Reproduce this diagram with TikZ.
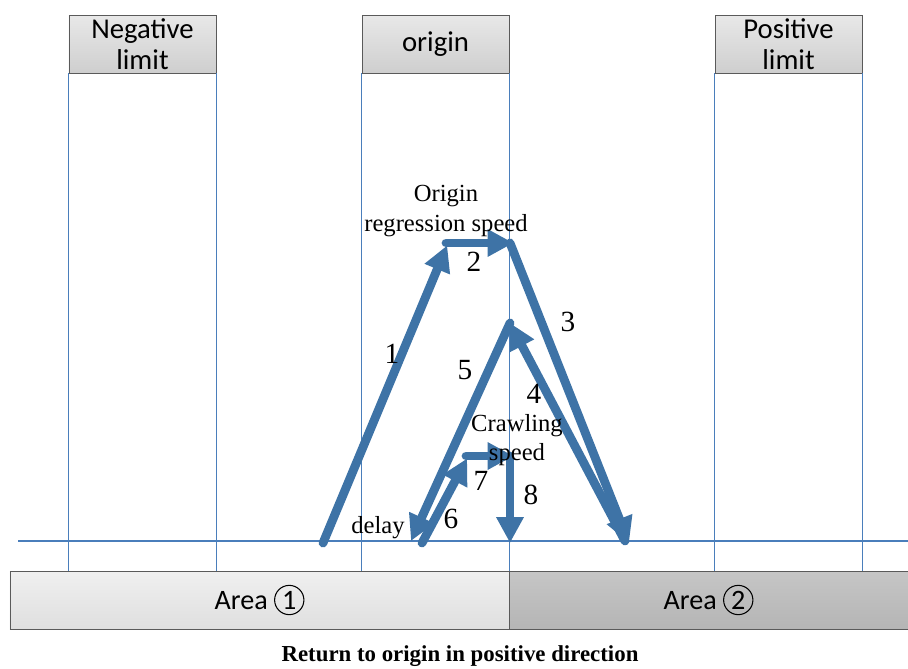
\documentclass[tikz,border=0pt]{standalone}
\usepackage{fontspec}
\setmainfont{Liberation Serif}
\newfontfamily\calibri{Carlito}
\usetikzlibrary{positioning, arrows.meta}

\definecolor{moveblue}{HTML}{3E73A6}
\definecolor{gridblue}{HTML}{4A7EBB}
\definecolor{frame}{HTML}{5A5A5A}

\newcommand{\circnum}[1]{\tikz[baseline=(cn.base)]
  \node[draw, circle, minimum size=25pt, inner sep=0pt, line width=0.9pt] (cn) {#1};}

\tikzset{
  limitbox/.style={draw=frame, thick, top color=gray!18, bottom color=gray!38,
    minimum width=4.41cm, minimum height=1.74cm, align=center, inner sep=0pt,
    font=\calibri\fontsize{24.5}{27}\selectfont},
  areabox/.style={draw=frame, thick, minimum height=1.74cm, inner sep=0pt,
    font=\calibri\fontsize{24}{27}\selectfont},
  gridline/.style={gridblue, line width=1.5pt},
  move/.style={moveblue, line width=7.5pt, line cap=round,
    -{Triangle[length=22pt, width=22pt]}},
  steplabel/.style={font=\fontsize{21}{25}\selectfont, align=center, inner sep=0pt},
  stepnum/.style={font=\fontsize{25}{27}\selectfont, inner sep=0pt}
}

\begin{document}
\begin{tikzpicture}[x=0.03cm, y=-0.03cm]

  \useasboundingbox (0,0) rectangle (908,668);

  % ── switch boxes on top ──────────────────────────────────────────────────

  \node[limitbox] (neg) at (142.5, 44) {Negative\\limit};
  \node[limitbox] (org) at (435.5, 44) {origin};
  \node[limitbox] (pos) at (788.5, 44) {Positive\\limit};

  % ── area bar at the bottom ────────────────────────────────────────────────

  \node[areabox, minimum width=14.97cm, top color=gray!12, bottom color=gray!25]
    (area1) at (259.5, 600) {Area \circnum{1}};
  \node[areabox, minimum width=11.97cm, top color=gray!45, bottom color=gray!58]
    (area2) at (708.5, 600) {Area \circnum{2}};

  % vertical guide lines
  \draw[gridline] (neg.south west) -- (neg.south west |- area1.north);
  \draw[gridline] (neg.south east) -- (neg.south east |- area1.north);
  \draw[gridline] (org.south west) -- (org.south west |- area1.north);
  \draw[gridline] (org.south east) -- (org.south east |- area1.north);
  \draw[gridline] (pos.south west) -- (pos.south west |- area1.north);
  \draw[gridline] (pos.south east) -- (pos.south east |- area1.north);

  % axis line
  \coordinate (axl) at (18, 541);
  \coordinate (axr) at (908, 541);
  \draw[gridline] (axl) -- (axr);

  % ── movement path ────────────────────────────────────────────────────────

  \coordinate (s1) at (323, 543);
  \coordinate (p1) at (446, 243);
  \coordinate (p2) at (510, 243);
  \coordinate (p3) at (629, 543);
  \coordinate (s4) at (625, 541);
  \coordinate (p4) at (510, 323);
  \coordinate (p5) at (411, 541);
  \coordinate (s6) at (422, 543);
  \coordinate (p6) at (466, 456);
  \coordinate (p7) at (510, 456);
  \coordinate (p8) at (510, 543);

  \draw[move] (s1) -- ([xshift=1pt, yshift=-2pt]p1);
  \draw[move] (p1) -- ([xshift=3pt]p2);
  \draw[move] (p2) -- (p3);
  \draw[move] (s4) -- (p4);
  \draw[move] (p4) -- (p5);
  \draw[move] (s6) -- ([xshift=1pt, yshift=-2pt]p6);
  \draw[move] (p6) -- ([xshift=3pt]p7);
  \draw[move] (p7) -- (p8);

  % step numbers and speeds
  \node[stepnum] (n1) at (392, 354) {1};
  \node[stepnum] (n2) at (474, 262) {2};
  \node[stepnum] (n3) at (568, 322) {3};
  \node[stepnum] (n4) at (534, 394) {4};
  \node[stepnum] (n5) at (465, 370) {5};
  \node[stepnum] (n6) at (451, 519) {6};
  \node[stepnum] (n7) at (481, 481) {7};
  \node[stepnum] (n8) at (531, 495) {8};

  \node[steplabel] (fast) at (446, 211) {Origin\\regression speed};
  \node[steplabel] (slow) at (517, 440) {Crawling\\speed};
  \node[steplabel] (wait) at (378, 528) {delay};

  \node[font=\bfseries\fontsize{19.5}{22}\selectfont] (title) at (460, 656)
    {Return to origin in positive direction};

\end{tikzpicture}
\end{document}
